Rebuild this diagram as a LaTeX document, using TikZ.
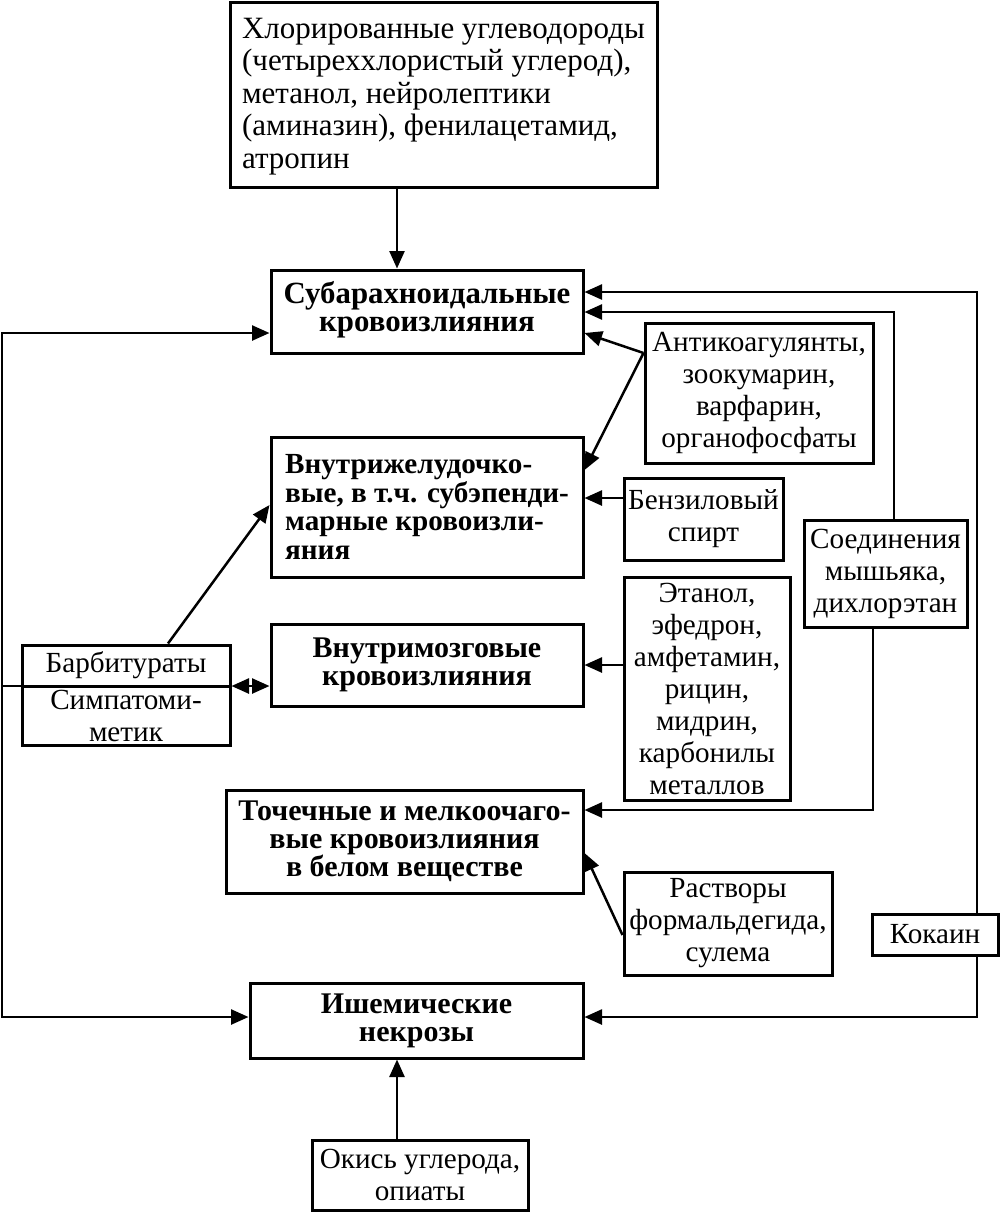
\documentclass[tikz,border=0pt]{standalone}
\usepackage{fontspec}
\setmainfont{Liberation Serif}
\usetikzlibrary{fit,arrows.meta,calc}
\begin{document}
\begin{tikzpicture}[x=0.6pt,y=-0.6pt,
  box/.style={draw,line width=1.8pt,inner sep=0pt,rectangle},
  reg/.style={font=\fontsize{17.5}{19.2}\selectfont,inner sep=0pt},
  bld/.style={font=\fontsize{18}{16.8}\selectfont\bfseries,inner sep=0pt},
  conn/.style={line width=1.5pt,-{Triangle[length=10.5pt,width=9pt]}},
  plain/.style={line width=1.5pt}]
\useasboundingbox (0,0) rectangle (1000,1214);
% boxes
\node[box,fit={(230,2)(657,187)}] (top) {};
\node[box,fit={(271,270)(583,353)}] (sub) {};
\node[box,fit={(645,323)(873,463)}] (anti) {};
\node[box,fit={(271,437)(583,577)}] (vnj) {};
\node[box,fit={(624,478)(783,560)}] (benz) {};
\node[box,fit={(804,520)(967,627)}] (mysh) {};
\node[box,fit={(624,577)(790,800)}] (etan) {};
\node[box,fit={(271,624)(583,706)}] (vnm) {};
\node[box,fit={(22,645)(230,686)}] (barb) {};
\node[box,fit={(22,686)(230,745)}] (simp) {};
\node[box,fit={(226,790)(583,893)}] (toch) {};
\node[box,fit={(624,872)(832,975)}] (rast) {};
\node[box,fit={(872,914)(998,955)}] (kok) {};
\node[box,fit={(250,983)(583,1058)}] (ish) {};
\node[box,fit={(312,1140)(528,1210)}] (okis) {};
% texts
\node[reg,align=left,font=\fontsize{18.6}{19.5}\selectfont] (topt) at ([yshift=-1pt]top.center) {Хлорированные углеводороды\\(четыреххлористый углерод),\\метанол, нейролептики\\(аминазин), фенилацетамид,\\атропин};
\node[bld,align=center,font=\fontsize{18.5}{16.8}\selectfont\bfseries] (subt) at ([yshift=1pt]sub.center) {Субарахноидальные\\кровоизлияния};
\node[reg,align=center] (antit) at (anti.center) {Антикоагулянты,\\зоокумарин,\\варфарин,\\органофосфаты};
\node[bld,align=left,font=\fontsize{17.5}{17.2}\selectfont\bfseries] (vnjt) at (vnj.center) {Внутрижелудочко-\\вые, в т.ч. субэпенди-\\марные кровоизли-\\яния};
\node[reg,align=center] (benzt) at (benz.center) {Бензиловый\\спирт};
\node[reg,align=center] (mysht) at (mysh.center) {Соединения\\мышьяка,\\дихлорэтан};
\node[reg,align=center] (etant) at (etan.center) {Этанол,\\эфедрон,\\амфетамин,\\рицин,\\мидрин,\\карбонилы\\металлов};
\node[bld,align=center] (vnmt) at (vnm.center) {Внутримозговые\\кровоизлияния};
\node[reg,align=center] (barbt) at (barb.center) {Барбитураты};
\node[reg,align=center] (simpt) at (simp.center) {Симпатоми-\\метик};
\node[bld,align=center] (locht) at (toch.center) {Точечные и мелкоочаго-\\вые кровоизлияния\\в белом веществе};
\node[reg,align=center] (rastt) at (rast.center) {Растворы\\формальдегида,\\сулема};
\node[reg,align=center] (kokt) at (kok.center) {Кокаин};
\node[bld,align=center] (isht) at (ish.center) {Ишемические\\некрозы};
\node[reg,align=center] (okist) at (okis.center) {Окись углерода,\\опиаты};
% helper coordinates
\coordinate (cx) at (397,0);
\coordinate (r1) at (977,292);
\coordinate (r2) at (894,312);
\coordinate (r3) at (873,810);
\coordinate (yI) at (0,1017);
\coordinate (a0) at (0,353);
\coordinate (y333) at (0,333);
\coordinate (y470) at (0,470);
\coordinate (y498) at (0,498);
\coordinate (y505) at (0,505);
\coordinate (y935) at (0,935);
\coordinate (y853) at (0,853);
\coordinate (L) at (2,686);
\coordinate (b168) at (168,0);
% connectors
\draw[conn] (top.south -| cx) -- (sub.north -| cx);
\draw[conn] (okis.north -| cx) -- (ish.south -| cx);
\draw[conn] (kok.north -| r1) |- (sub.east |- r1);
\draw[conn] (kok.south -| r1) |- (ish.east |- yI);
\draw[conn] (mysh.north -| r2) |- (sub.east |- r2);
\draw[conn] (mysh.south -| r3) |- (toch.east |- r3);
\draw[conn] (anti.west |- a0) -- (sub.east |- y333);
\draw[conn] (anti.west |- a0) -- (vnj.east |- y470);
\draw[conn] (benz.west |- y498) -- (vnj.east |- y498);
\draw[conn] (etan.west |- vnm.east) -- (vnm.east);
\draw[conn] (rast.west |- y935) -- (toch.east |- y853);
\draw[conn] (L) |- (sub.west |- y333);
\draw[conn] (L) |- (ish.west |- yI);
\draw[plain,line cap=rect] (L) -- (barb.west |- L);
\draw[line width=1.5pt,{Triangle[length=10.5pt,width=9pt]}-{Triangle[length=10.5pt,width=9pt]}] (barb.east |- L) -- (vnm.west |- L);
\draw[conn] (barb.north -| b168) -- (vnj.west |- y505);
\end{tikzpicture}
\end{document}
